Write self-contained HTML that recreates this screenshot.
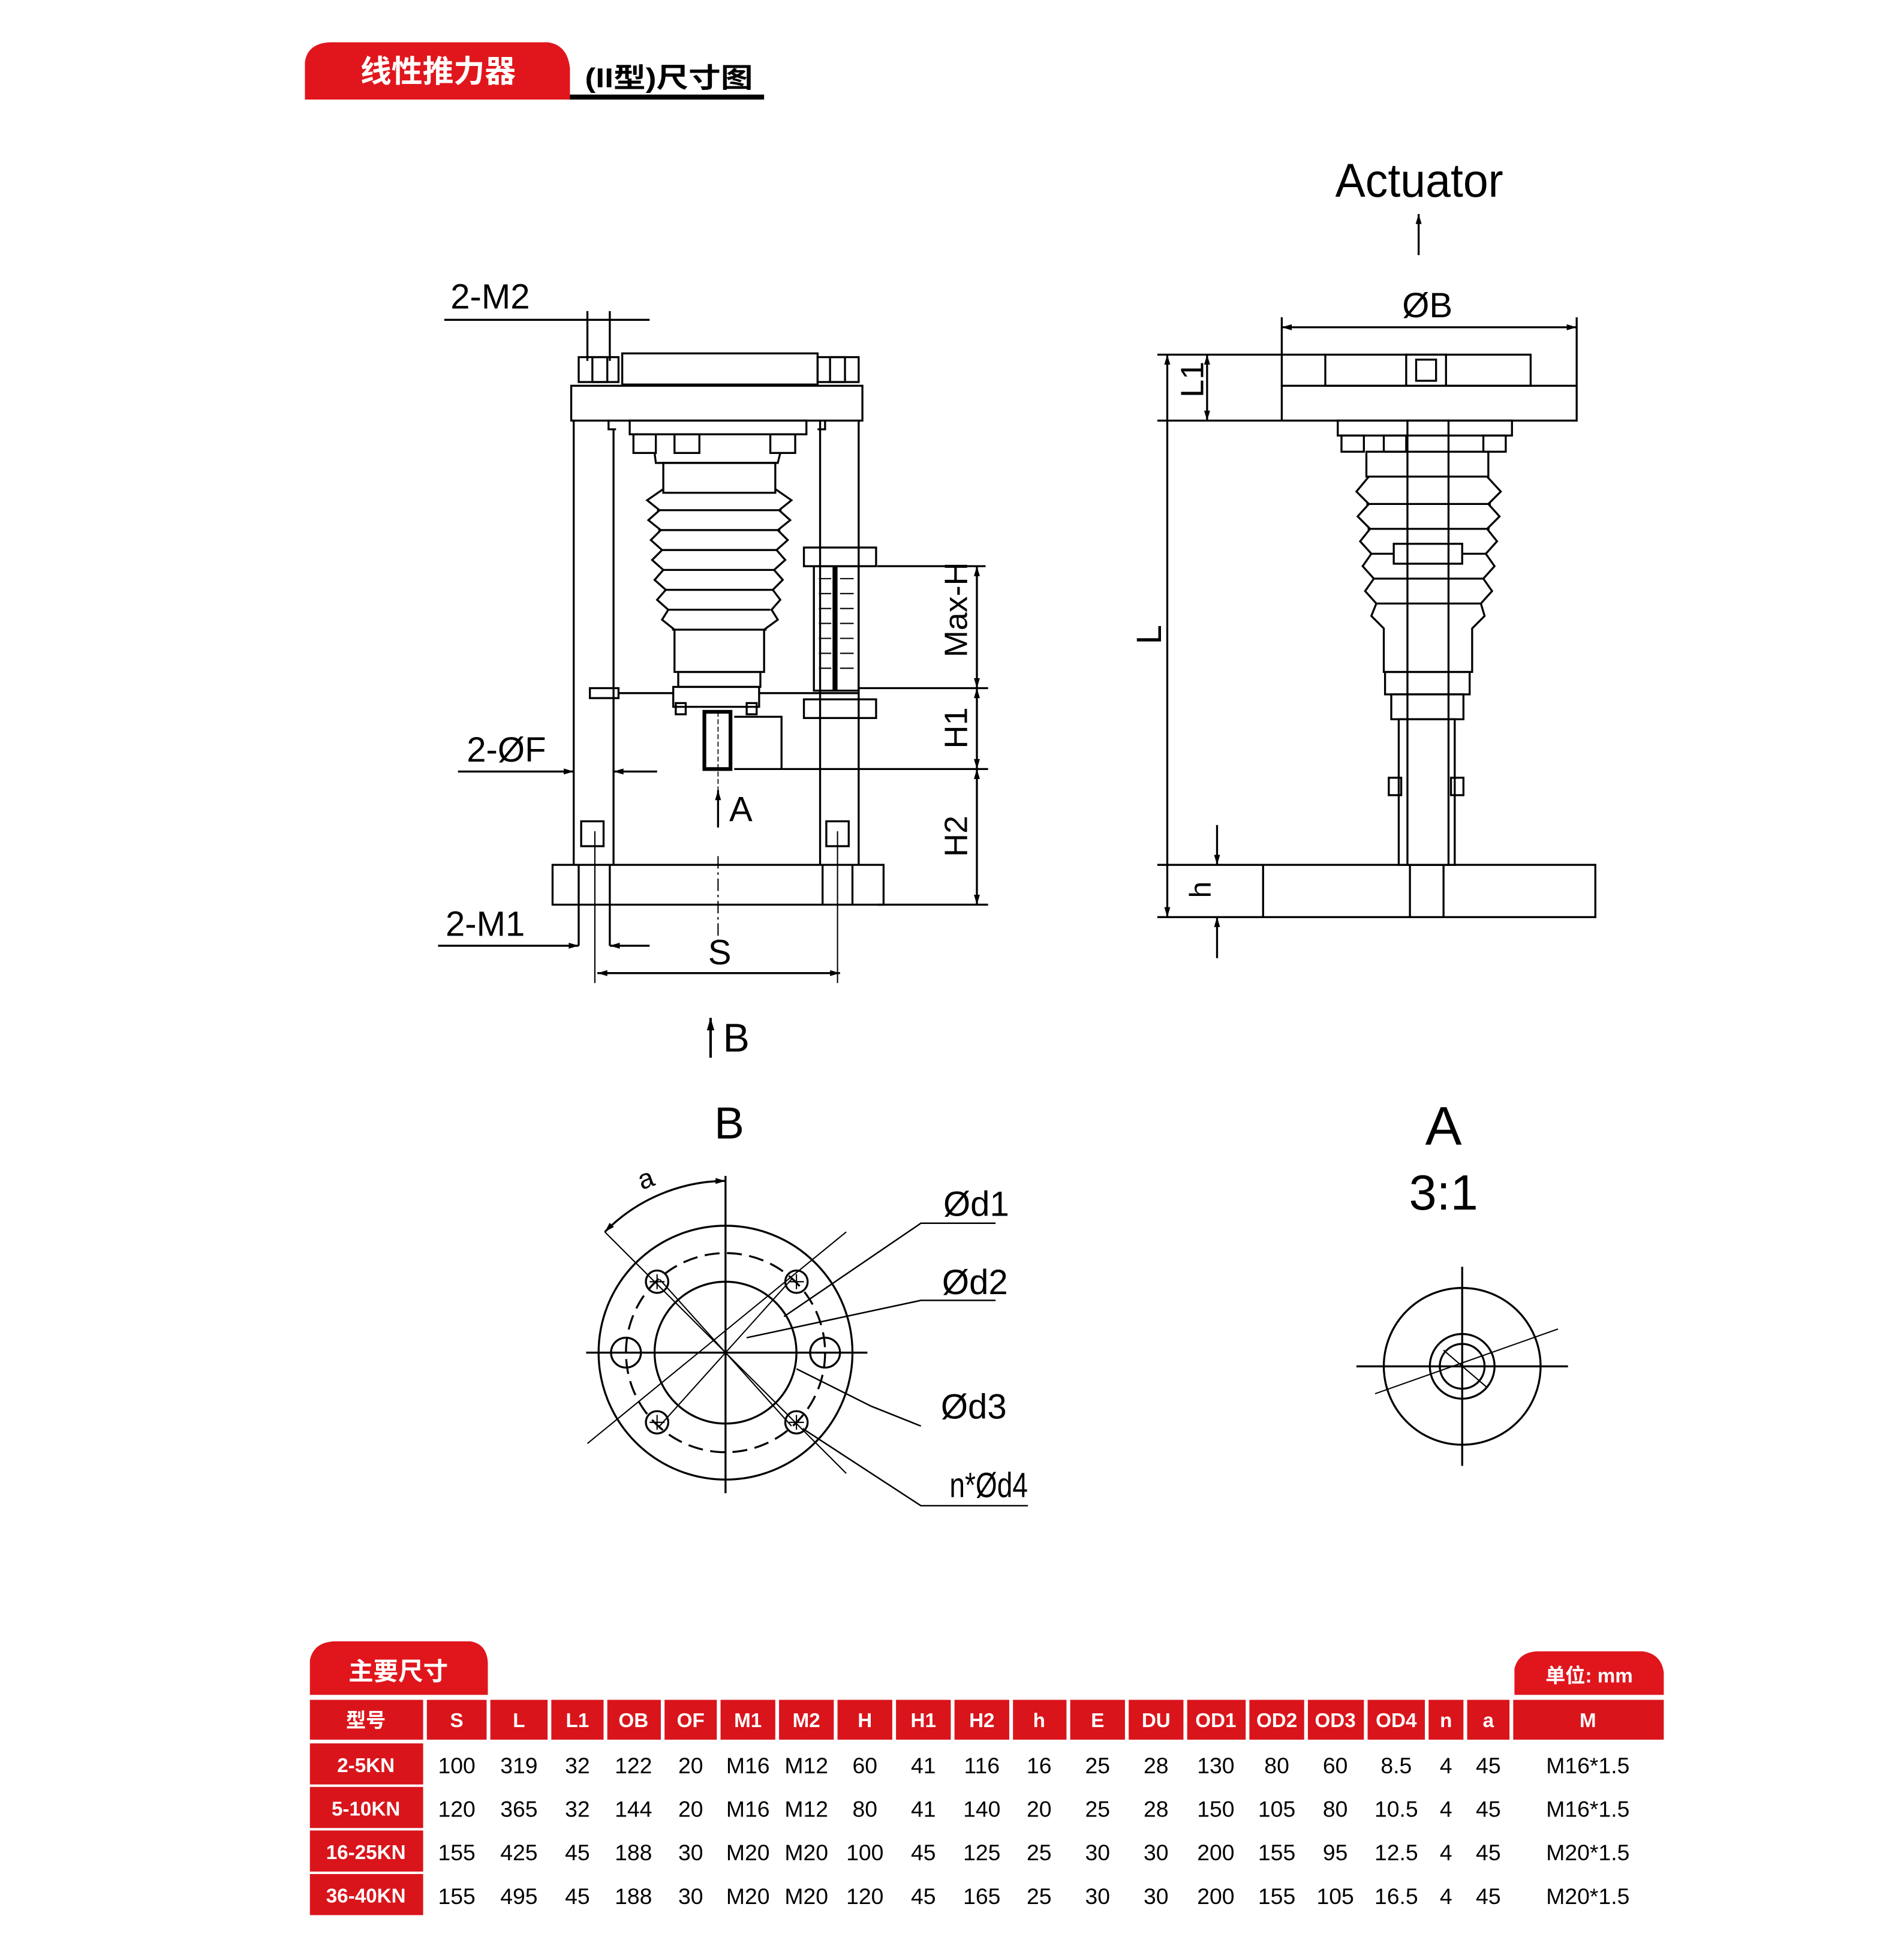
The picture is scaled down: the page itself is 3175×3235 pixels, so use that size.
<!DOCTYPE html>
<html><head><meta charset="utf-8"><style>
html,body{margin:0;padding:0;background:#fff;}
svg{display:block;}
.n{font-family:"Liberation Sans Narrow","Liberation Sans",sans-serif;}
.c{font-family:"Liberation Sans","Noto Sans CJK SC",sans-serif;font-weight:bold;}
</style></head><body>
<svg width="3175" height="3235" viewBox="0 0 1530 1559" xmlns="http://www.w3.org/2000/svg">
<defs>
<marker id="ar" viewBox="0 0 10 10" refX="10" refY="5" markerWidth="6" markerHeight="5" orient="auto-start-reverse"><path d="M0,2 L10,5 L0,8z" fill="#000"/></marker>
</defs>
<rect width="1530" height="1559" fill="#fff"/>
<!-- header -->
<path d="M245,80 L245,50 Q247,35 265,34 L440,34 Q456,36 458,55 L458,80 Z" fill="#e0161c"/>
<text x="352" y="66" text-anchor="middle" class="c" font-size="25" fill="#fff">线性推力器</text>
<text x="470" y="70" class="c" font-size="22" fill="#000" textLength="135" lengthAdjust="spacingAndGlyphs">(II型)尺寸图</text>
<rect x="458" y="76" width="156" height="4" fill="#000"/>

<g fill="none" stroke="#000" stroke-width="1.6">
<line x1="357" y1="257" x2="522" y2="257"/>
<line x1="472" y1="250" x2="472" y2="290"/><line x1="490" y1="250" x2="490" y2="290"/>
<rect x="465" y="287" width="32" height="20"/><rect x="476" y="287" width="12" height="20"/>
<rect x="657" y="287" width="33" height="20"/><rect x="667" y="287" width="12" height="20"/>
<rect x="500" y="284" width="157" height="25"/>
<rect x="459" y="310" width="234" height="28"/>
<line x1="461" y1="338" x2="461" y2="695"/><line x1="493" y1="345" x2="493" y2="695"/>
<polyline points="489,338 489,345 495,345"/>
<line x1="659" y1="338" x2="659" y2="695"/><line x1="690" y1="338" x2="690" y2="695"/>
<polyline points="663,338 663,345 657,345"/>
<rect x="506" y="338" width="142" height="11"/>
<rect x="509" y="349" width="18" height="15"/><rect x="542" y="349" width="20" height="15"/><rect x="619" y="349" width="20" height="15"/>
<polyline points="526,364 527,372 625,372 627,364"/>
<rect x="533" y="372" width="90" height="24"/>
<path d="M533,393 L520,402 L530,410 L521,418 L531,426 L523,434 L532,442 L524,450 L533,458 L526,466 L535,474 L528,482 L537,490 L532,498 L542,506 L542,540 L614,540 L614,506 L625,498 L620,490 L627,482 L621,474 L629,466 L622,458 L631,450 L624,442 L633,434 L625,426 L635,418 L626,410 L636,402 L623,393"/>
<line x1="528" y1="410" x2="628" y2="410"/><line x1="529" y1="426" x2="627" y2="426"/><line x1="531" y1="442" x2="625" y2="442"/><line x1="533" y1="458" x2="623" y2="458"/><line x1="535" y1="474" x2="621" y2="474"/><line x1="537" y1="490" x2="619" y2="490"/><line x1="540" y1="506" x2="616" y2="506"/>
<rect x="545" y="540" width="66" height="12"/>
<rect x="541" y="552" width="69" height="16"/>
<rect x="543" y="565" width="8" height="9"/><rect x="600" y="565" width="8" height="9"/>
<rect x="566" y="572" width="21" height="46" stroke-width="3"/>
<line x1="577" y1="572" x2="577" y2="640" stroke-width="0.8" stroke-dasharray="4,2"/>
<polyline points="590,576 628,576 628,618"/>
<rect x="474" y="553" width="23" height="8"/>
<line x1="497" y1="557" x2="541" y2="557"/>
<line x1="610" y1="557" x2="690" y2="557"/>
<rect x="646" y="440" width="58" height="15"/>
<rect x="654" y="455" width="36" height="100"/>
<line x1="671" y1="455" x2="671" y2="555" stroke-width="4"/>
<g stroke-width="1">
<line x1="658" y1="465" x2="668" y2="465"/><line x1="675" y1="465" x2="686" y2="465"/>
<line x1="658" y1="477" x2="668" y2="477"/><line x1="675" y1="477" x2="686" y2="477"/>
<line x1="658" y1="489" x2="668" y2="489"/><line x1="675" y1="489" x2="686" y2="489"/>
<line x1="658" y1="501" x2="668" y2="501"/><line x1="675" y1="501" x2="686" y2="501"/>
<line x1="658" y1="513" x2="668" y2="513"/><line x1="675" y1="513" x2="686" y2="513"/>
<line x1="658" y1="525" x2="668" y2="525"/><line x1="675" y1="525" x2="686" y2="525"/>
<line x1="658" y1="537" x2="668" y2="537"/><line x1="675" y1="537" x2="686" y2="537"/>
</g>
<rect x="646" y="562" width="58" height="15"/>
<line x1="705" y1="455" x2="792" y2="455"/>
<line x1="690" y1="553" x2="794" y2="553"/>
<line x1="590" y1="618" x2="794" y2="618"/>
<line x1="705" y1="727" x2="794" y2="727"/>
<line x1="785" y1="455" x2="785" y2="553" marker-start="url(#ar)" marker-end="url(#ar)"/>
<line x1="785" y1="553" x2="785" y2="618" marker-start="url(#ar)" marker-end="url(#ar)"/>
<line x1="785" y1="618" x2="785" y2="727" marker-start="url(#ar)" marker-end="url(#ar)"/>
<line x1="368" y1="620" x2="461" y2="620" marker-end="url(#ar)"/>
<line x1="528" y1="620" x2="493" y2="620" marker-end="url(#ar)"/>
<line x1="577" y1="665" x2="577" y2="635" marker-end="url(#ar)"/>
<rect x="467" y="660" width="18" height="20"/><rect x="664" y="660" width="18" height="20"/>
<line x1="478" y1="668" x2="478" y2="790" stroke-width="1"/>
<line x1="673" y1="668" x2="673" y2="790" stroke-width="1"/>
<rect x="444" y="695" width="266" height="32"/>
<line x1="465" y1="695" x2="465" y2="760"/><line x1="490" y1="695" x2="490" y2="760"/>
<line x1="661" y1="695" x2="661" y2="727"/><line x1="685" y1="695" x2="685" y2="727"/>
<line x1="577" y1="688" x2="577" y2="758" stroke-width="1" stroke-dasharray="10,3,2,3"/>
<line x1="352" y1="760" x2="465" y2="760" marker-end="url(#ar)"/>
<line x1="522" y1="760" x2="490" y2="760" marker-end="url(#ar)"/>
<line x1="480" y1="782" x2="675" y2="782" marker-start="url(#ar)" marker-end="url(#ar)"/>
<line x1="571" y1="850" x2="571" y2="818" stroke-width="2" marker-end="url(#ar)"/>

<line x1="1140" y1="205" x2="1140" y2="172" marker-end="url(#ar)"/>
<line x1="1030" y1="263" x2="1267" y2="263" marker-start="url(#ar)" marker-end="url(#ar)"/>
<line x1="1030" y1="255" x2="1030" y2="310"/><line x1="1267" y1="255" x2="1267" y2="310"/>
<rect x="1030" y="310" width="237" height="28"/>
<rect x="1065" y="285" width="165" height="25"/>
<rect x="1130" y="285" width="32" height="25"/><rect x="1138" y="289" width="16" height="17"/>
<line x1="930" y1="285" x2="1065" y2="285"/>
<line x1="930" y1="338" x2="1030" y2="338"/>
<line x1="970" y1="285" x2="970" y2="338" marker-start="url(#ar)" marker-end="url(#ar)"/>
<line x1="938" y1="285" x2="938" y2="737" marker-start="url(#ar)" marker-end="url(#ar)"/>
<rect x="1075" y="338" width="140" height="12"/>
<rect x="1078" y="350" width="18" height="13"/><rect x="1112" y="350" width="18" height="13"/><rect x="1192" y="350" width="18" height="13"/>
<rect x="1098" y="363" width="98" height="20"/>
<path d="M1100,383 L1090,395 L1100,405 L1091,415 L1101,425 L1093,435 L1102,445 L1095,455 L1104,465 L1097,475 L1106,485 L1102,495 L1112,505 L1112,540 L1183,540 L1183,505 L1193,495 L1190,485 L1199,475 L1192,465 L1201,455 L1194,445 L1203,435 L1195,425 L1205,415 L1196,405 L1206,395 L1195,383"/>
<line x1="1098" y1="405" x2="1198" y2="405"/><line x1="1099" y1="425" x2="1197" y2="425"/><line x1="1101" y1="445" x2="1195" y2="445"/><line x1="1103" y1="465" x2="1193" y2="465"/><line x1="1105" y1="485" x2="1191" y2="485"/>
<rect x="1120" y="437" width="55" height="16" fill="#fff"/>
<rect x="1113" y="540" width="68" height="18"/>
<rect x="1118" y="558" width="58" height="20"/>
<rect x="1131" y="338" width="33" height="357" fill="none"/>
<rect x="1124" y="578" width="45" height="117"/>
<rect x="1116" y="625" width="10" height="14"/><rect x="1166" y="625" width="10" height="14"/>
<rect x="1015" y="695" width="267" height="42"/>
<line x1="930" y1="695" x2="1015" y2="695"/><line x1="930" y1="737" x2="1015" y2="737"/>
<line x1="1133" y1="695" x2="1133" y2="737"/><line x1="1160" y1="695" x2="1160" y2="737"/>
<line x1="978" y1="663" x2="978" y2="695" marker-end="url(#ar)"/>
<line x1="978" y1="770" x2="978" y2="737" marker-end="url(#ar)"/>

<circle cx="583" cy="1087" r="102"/>
<circle cx="583" cy="1087" r="57"/>
<circle cx="583" cy="1087" r="80" stroke-dasharray="12,6"/>
<line x1="471" y1="1087" x2="697" y2="1087"/>
<line x1="583" y1="945" x2="583" y2="1200"/>
<g stroke-width="1">
<line x1="486" y1="990" x2="680" y2="1184"/><line x1="472" y1="1160" x2="680" y2="990"/>
<line x1="530" y1="1028" x2="636" y2="1146"/><line x1="636" y1="1028" x2="530" y2="1146"/>
</g>
<circle cx="528" cy="1030" r="9"/><circle cx="640" cy="1030" r="9"/><circle cx="528" cy="1143" r="9"/><circle cx="640" cy="1143" r="9"/>
<path d="M522,1030h12M528,1024v12M634,1030h12M640,1024v12M522,1143h12M528,1137v12M634,1143h12M640,1137v12" stroke-width="1"/>
<circle cx="503" cy="1087" r="12"/><circle cx="663" cy="1087" r="12"/>
<path d="M486,990 A137,137 0 0 1 583,949" marker-start="url(#ar)" marker-end="url(#ar)"/>
<polyline points="800,983 740,983 630,1058" stroke-width="1.2"/>
<polyline points="800,1045 740,1045 600,1075" stroke-width="1.2"/>
<polyline points="740,1146 700,1130 640,1100" stroke-width="1.2"/>
<polyline points="826,1210 740,1210 645,1148" stroke-width="1.2"/>

<circle cx="1175" cy="1098" r="63"/>
<circle cx="1175" cy="1098" r="26"/>
<circle cx="1175" cy="1098" r="18"/>
<line x1="1090" y1="1098" x2="1260" y2="1098"/>
<line x1="1175" y1="1018" x2="1175" y2="1178"/>
<line x1="1105" y1="1120" x2="1252" y2="1068" stroke-width="1"/>
<line x1="1160" y1="1085" x2="1195" y2="1115" stroke-width="1"/>
</g>

<g class="n" fill="#000" font-size="28">
<text x="362" y="248">2-M2</text>
<text x="375" y="612">2-ØF</text>
<text x="358" y="752">2-M1</text>
<text x="586" y="660">A</text>
<text x="569" y="775">S</text>
<text x="581" y="845" font-size="32">B</text>
<text transform="translate(777,490) rotate(-90)" text-anchor="middle" font-size="26">Max-H</text>
<text transform="translate(777,585) rotate(-90)" text-anchor="middle" font-size="26">H1</text>
<text transform="translate(777,672) rotate(-90)" text-anchor="middle" font-size="26">H2</text>
<text x="1073" y="158" font-size="38" textLength="135" lengthAdjust="spacingAndGlyphs">Actuator</text>
<text x="1147" y="255" text-anchor="middle">ØB</text>
<text transform="translate(967,305) rotate(-90)" text-anchor="middle" font-size="26">L1</text>
<text transform="translate(933,510) rotate(-90)" text-anchor="middle" font-size="28">L</text>
<text transform="translate(973,715) rotate(-90)" text-anchor="middle" font-size="24">h</text>
<text x="586" y="915" text-anchor="middle" font-size="36">B</text>
<text x="513" y="955" font-size="22" transform="rotate(-20 518 948)">a</text>
<text x="758" y="977">Ød1</text>
<text x="757" y="1040">Ød2</text>
<text x="756" y="1140">Ød3</text>
<text x="763" y="1203" textLength="63" lengthAdjust="spacingAndGlyphs">n*Ød4</text>
<text x="1160" y="920" text-anchor="middle" font-size="44">A</text>
<text x="1160" y="972" text-anchor="middle" font-size="40">3:1</text>
</g>

<g transform="translate(0,-6)">
<path d="M249,1368 L249,1340 Q252,1326 268,1325 L378,1325 Q391,1327 392,1342 L392,1368Z" fill="#e0161c"/>
<text x="320" y="1356" text-anchor="middle" class="c" font-size="20" fill="#fff">主要尺寸</text>
<path d="M1217,1368 L1217,1347 Q1220,1334 1235,1333 L1320,1333 Q1335,1335 1337,1350 L1337,1368Z" fill="#e0161c"/>
<text x="1277" y="1358" text-anchor="middle" class="c" font-size="16" fill="#fff">单位: mm</text>
<g fill="#d9141b">
<rect x="249" y="1372" width="91" height="32"/><rect x="343" y="1372" width="48" height="32"/><rect x="394" y="1372" width="46" height="32"/><rect x="443" y="1372" width="42" height="32"/><rect x="488" y="1372" width="43" height="32"/><rect x="534" y="1372" width="42" height="32"/><rect x="579" y="1372" width="44" height="32"/><rect x="626" y="1372" width="44" height="32"/><rect x="673" y="1372" width="44" height="32"/><rect x="720" y="1372" width="44" height="32"/><rect x="767" y="1372" width="44" height="32"/><rect x="814" y="1372" width="43" height="32"/><rect x="860" y="1372" width="44" height="32"/><rect x="907" y="1372" width="44" height="32"/><rect x="954" y="1372" width="47" height="32"/><rect x="1004" y="1372" width="44" height="32"/><rect x="1051" y="1372" width="45" height="32"/><rect x="1099" y="1372" width="46" height="32"/><rect x="1148" y="1372" width="28" height="32"/><rect x="1179" y="1372" width="34" height="32"/><rect x="1216" y="1372" width="121" height="32"/>
<rect x="249" y="1407" width="91" height="33"/><rect x="249" y="1442" width="91" height="33"/><rect x="249" y="1477" width="91" height="33"/><rect x="249" y="1512" width="91" height="33"/>
</g>
<g class="c" font-size="16" fill="#fff" text-anchor="middle">
<text x="294" y="1394">型号</text><text x="367" y="1394">S</text><text x="417" y="1394">L</text><text x="464" y="1394">L1</text><text x="509" y="1394">OB</text><text x="555" y="1394">OF</text><text x="601" y="1394">M1</text><text x="648" y="1394">M2</text><text x="695" y="1394">H</text><text x="742" y="1394">H1</text><text x="789" y="1394">H2</text><text x="835" y="1394">h</text><text x="882" y="1394">E</text><text x="929" y="1394">DU</text><text x="977" y="1394">OD1</text><text x="1026" y="1394">OD2</text><text x="1073" y="1394">OD3</text><text x="1122" y="1394">OD4</text><text x="1162" y="1394">n</text><text x="1196" y="1394">a</text><text x="1276" y="1394">M</text>
<text x="294" y="1430">2-5KN</text><text x="294" y="1465">5-10KN</text><text x="294" y="1500">16-25KN</text><text x="294" y="1535">36-40KN</text>
</g>
<g class="n" font-size="18" fill="#000" text-anchor="middle">
<text y="1431"><tspan x="367">100</tspan><tspan x="417">319</tspan><tspan x="464">32</tspan><tspan x="509">122</tspan><tspan x="555">20</tspan><tspan x="601">M16</tspan><tspan x="648">M12</tspan><tspan x="695">60</tspan><tspan x="742">41</tspan><tspan x="789">116</tspan><tspan x="835">16</tspan><tspan x="882">25</tspan><tspan x="929">28</tspan><tspan x="977">130</tspan><tspan x="1026">80</tspan><tspan x="1073">60</tspan><tspan x="1122">8.5</tspan><tspan x="1162">4</tspan><tspan x="1196">45</tspan><tspan x="1276">M16*1.5</tspan></text>
<text y="1466"><tspan x="367">120</tspan><tspan x="417">365</tspan><tspan x="464">32</tspan><tspan x="509">144</tspan><tspan x="555">20</tspan><tspan x="601">M16</tspan><tspan x="648">M12</tspan><tspan x="695">80</tspan><tspan x="742">41</tspan><tspan x="789">140</tspan><tspan x="835">20</tspan><tspan x="882">25</tspan><tspan x="929">28</tspan><tspan x="977">150</tspan><tspan x="1026">105</tspan><tspan x="1073">80</tspan><tspan x="1122">10.5</tspan><tspan x="1162">4</tspan><tspan x="1196">45</tspan><tspan x="1276">M16*1.5</tspan></text>
<text y="1501"><tspan x="367">155</tspan><tspan x="417">425</tspan><tspan x="464">45</tspan><tspan x="509">188</tspan><tspan x="555">30</tspan><tspan x="601">M20</tspan><tspan x="648">M20</tspan><tspan x="695">100</tspan><tspan x="742">45</tspan><tspan x="789">125</tspan><tspan x="835">25</tspan><tspan x="882">30</tspan><tspan x="929">30</tspan><tspan x="977">200</tspan><tspan x="1026">155</tspan><tspan x="1073">95</tspan><tspan x="1122">12.5</tspan><tspan x="1162">4</tspan><tspan x="1196">45</tspan><tspan x="1276">M20*1.5</tspan></text>
<text y="1536"><tspan x="367">155</tspan><tspan x="417">495</tspan><tspan x="464">45</tspan><tspan x="509">188</tspan><tspan x="555">30</tspan><tspan x="601">M20</tspan><tspan x="648">M20</tspan><tspan x="695">120</tspan><tspan x="742">45</tspan><tspan x="789">165</tspan><tspan x="835">25</tspan><tspan x="882">30</tspan><tspan x="929">30</tspan><tspan x="977">200</tspan><tspan x="1026">155</tspan><tspan x="1073">105</tspan><tspan x="1122">16.5</tspan><tspan x="1162">4</tspan><tspan x="1196">45</tspan><tspan x="1276">M20*1.5</tspan></text>
</g>
</g>
</svg>
</body></html>
